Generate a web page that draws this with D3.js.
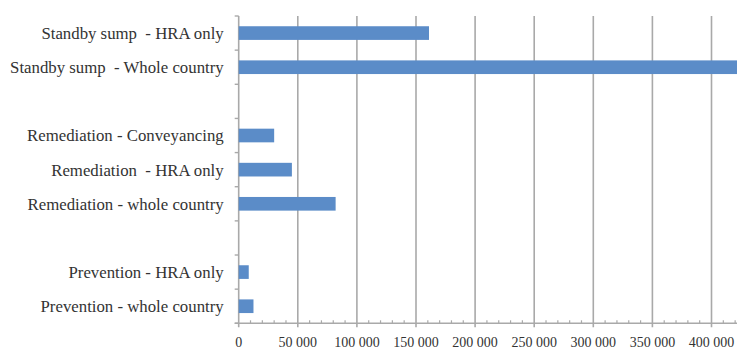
<!DOCTYPE html>
<html>
<head>
<meta charset="utf-8">
<script src="https://cdn.jsdelivr.net/npm/d3@7"></script>
<style>
  html, body { margin: 0; padding: 0; background: #fff; }
  svg { display: block; }
  text { white-space: pre; }
</style>
</head>
<body>
<script>
// ---- data ----
const categories = [
  "Standby sump  - HRA only",
  "Standby sump  - Whole country",
  "",
  "Remediation - Conveyancing",
  "Remediation  - HRA only",
  "Remediation - whole country",
  "",
  "Prevention - HRA only",
  "Prevention - whole country"
];
const values = [161000, 440000, null, 30000, 45000, 82000, null, 8500, 12500];
const xTicks = [0, 50000, 100000, 150000, 200000, 250000, 300000, 350000, 400000];
const minorStep = 10000;

// ---- layout ----
const W = 737, H = 349;
const x0 = 238.7, plotTop = 16, plotBottom = 323.3;
const step50k = 59.1;

const svg = d3.select("body").append("svg").attr("width", W).attr("height", H);

const x = d3.scaleLinear().domain([0, 450000]).range([x0, x0 + 9 * step50k]);
const idx = categories.map((c, i) => i);
const y = d3.scaleBand().domain(idx).range([plotTop, plotBottom]).paddingInner(0.6).paddingOuter(0.3);
const stepY = y.step();

const gridColor = "#a9a9a9";
const textColor = "#333333";
const barColor = "#5b8cc8";
const fmt = d => d3.format(",")(d).replace(/,/g, " ");

// gridlines
svg.append("g").selectAll("line")
  .data(xTicks.filter(d => d > 0))
  .join("line")
  .attr("x1", d => x(d)).attr("x2", d => x(d))
  .attr("y1", plotTop).attr("y2", plotBottom + 4)
  .attr("stroke", gridColor).attr("stroke-width", 1.6);

// minor ticks
const minor = d3.range(minorStep, 460000, minorStep).filter(d => d % 50000 !== 0);
svg.append("g").selectAll("line")
  .data(minor)
  .join("line")
  .attr("x1", d => x(d)).attr("x2", d => x(d))
  .attr("y1", plotBottom - 3).attr("y2", plotBottom)
  .attr("stroke", gridColor).attr("stroke-width", 1.2);

// x axis line
svg.append("line")
  .attr("x1", x0 - 4).attr("x2", W)
  .attr("y1", plotBottom).attr("y2", plotBottom)
  .attr("stroke", gridColor).attr("stroke-width", 1.6);

// y axis line
svg.append("line")
  .attr("x1", x0).attr("x2", x0)
  .attr("y1", plotTop).attr("y2", plotBottom + 4)
  .attr("stroke", gridColor).attr("stroke-width", 1.6);

// y category boundary ticks
const bounds = d3.range(categories.length + 1).map(i => plotTop + i * stepY);
svg.append("g").selectAll("line")
  .data(bounds)
  .join("line")
  .attr("x1", x0 - 4).attr("x2", x0)
  .attr("y1", d => d).attr("y2", d => d)
  .attr("stroke", gridColor).attr("stroke-width", 1.4);

// bars
svg.append("g").selectAll("rect")
  .data(idx.filter(i => values[i] != null))
  .join("rect")
  .attr("x", x0)
  .attr("y", i => y(i))
  .attr("width", i => x(values[i]) - x0)
  .attr("height", y.bandwidth())
  .attr("fill", barColor);

// category labels
svg.append("g").selectAll("text")
  .data(idx.filter(i => categories[i] !== ""))
  .join("text")
  .attr("x", x0 - 15)
  .attr("y", i => y(i) + y.bandwidth() / 2)
  .attr("dy", "0.35em")
  .attr("text-anchor", "end")
  .attr("font-family", "Liberation Serif, serif")
  .attr("font-size", 16.8)
  .attr("fill", textColor)
  .text(i => categories[i]);

// x tick labels
svg.append("g").selectAll("text")
  .data(xTicks)
  .join("text")
  .attr("x", d => x(d))
  .attr("y", 347)
  .attr("text-anchor", "middle")
  .attr("font-family", "Liberation Serif, serif")
  .attr("font-size", 14)
  .attr("fill", textColor)
  .text(d => fmt(d));
</script>
</body>
</html>
